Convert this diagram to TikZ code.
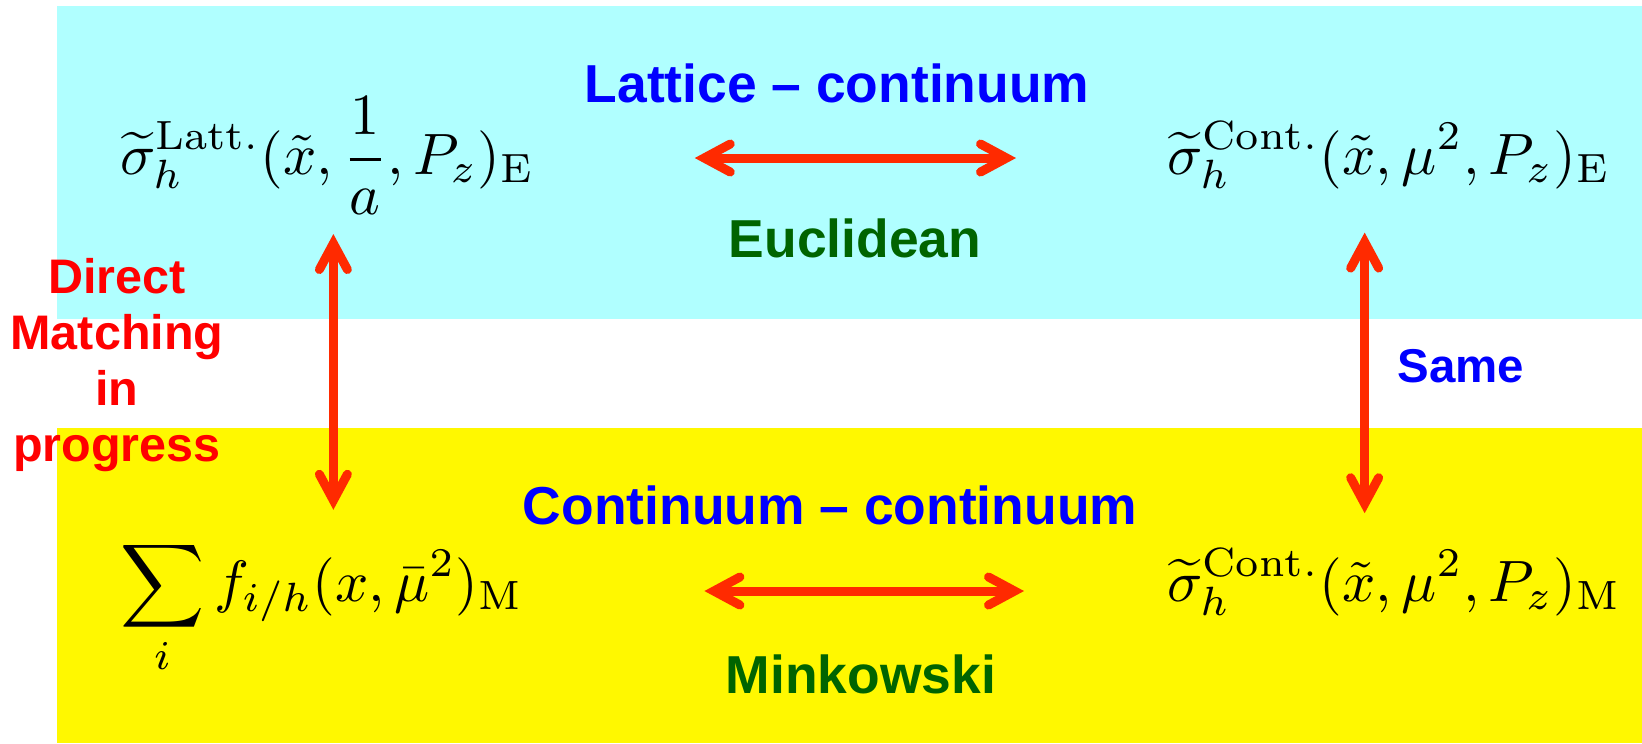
\documentclass[tikz,border=0pt]{standalone}
\usepackage{amsmath}
\usepackage{graphicx}
\usepackage{fontspec}
\setsansfont{Liberation Sans}
\usetikzlibrary{arrows.meta}
\definecolor{matchCyan}{HTML}{B0FFFF}
\definecolor{matchYellow}{HTML}{FFF800}
\definecolor{matchRed}{HTML}{FF2A00}
\definecolor{matchText}{HTML}{FF0000}
\definecolor{matchBlue}{HTML}{0000FF}
\definecolor{matchGreen}{HTML}{006400}
\newcommand{\matchEq}[1]{\scalebox{1.66}{$\displaystyle #1$}}
\tikzset{
  match diagram/.style={
    x=0.1mm, y=-0.1mm,
    >={Straight Barb[length=2.6mm,width=2.8mm,line cap=round,line join=miter]},
    every node/.style={inner sep=0pt, outer sep=0pt}
  },
  match formula/.style={anchor=base west},
  match title/.style={anchor=base, text=matchBlue,
    font=\fontsize{15.2}{18}\selectfont\sffamily\bfseries},
  match space/.style={anchor=base, text=matchGreen,
    font=\fontsize{15.2}{18}\selectfont\sffamily\bfseries},
  match arrow/.style={draw=matchRed, line width=0.9mm, <->}
}
\begin{document}
\begin{tikzpicture}[match diagram]
  \useasboundingbox (0,0) rectangle (1642,743);
  \fill[matchCyan] (57,6) rectangle (1642,319);
  \fill[matchYellow] (57,428) rectangle (1642,743);
  % Euclidean row
  \node[match formula] (latt) at (120,174)
    {\matchEq{\widetilde{\sigma}_h^{\mathrm{Latt.}}(\tilde{x},\frac{1}{a},P_z)_{\mathrm{E}}}};
  \node[match formula] (contE) at (1167,174)
    {\matchEq{\widetilde{\sigma}_h^{\mathrm{Cont.}}(\tilde{x},\mu^2,P_z)_{\mathrm{E}}}};
  \node[match title] (lattTitle) at (837,102) {Lattice – continuum};
  \node[match space] (euclid) at (855,257) {Euclidean};
  % Minkowski row
  \node[match formula] (sumf) at (120,601)
    {\matchEq{\sum_i f_{i/h}(x,\bar{\mu}^2)_{\mathrm{M}}}};
  \node[match formula] (contM) at (1167,601)
    {\matchEq{\widetilde{\sigma}_h^{\mathrm{Cont.}}(\tilde{x},\mu^2,P_z)_{\mathrm{M}}}};
  \node[match title] (contTitle) at (830,524) {Continuum – continuum};
  \node[match space] (mink) at (861,693) {Minkowski};
  % side labels
  \node[anchor=north, align=center, text=matchText,
    font=\fontsize{13.8}{16}\selectfont\sffamily\bfseries] (direct) at (117,258)
    {Direct\\Matching\\in\\progress};
  \node[match title, font=\fontsize{13.5}{16}\selectfont\sffamily\bfseries] (same) at (1461,382) {Same};
  % connectors
  \draw[match arrow, shorten <=16mm, shorten >=15.1mm]
    ([yshift=1.6mm]latt.base east) -- ([yshift=1.6mm]contE.base west);
  \draw[match arrow, shorten <=18.1mm, shorten >=14.3mm]
    ([yshift=1mm]sumf.base east) -- ([yshift=1mm]contM.base west);
  \draw[match arrow, shorten <=2mm, shorten >=3mm]
    ([xshift=0.6mm]latt.south) -- ([xshift=0.6mm]latt.south |- sumf.north);
  \draw[match arrow, shorten <=4.4mm, shorten >=3.5mm]
    ([xshift=-2.4mm]contE.south) -- ([xshift=-2.4mm]contE.south |- contM.north);
\end{tikzpicture}
\end{document}
